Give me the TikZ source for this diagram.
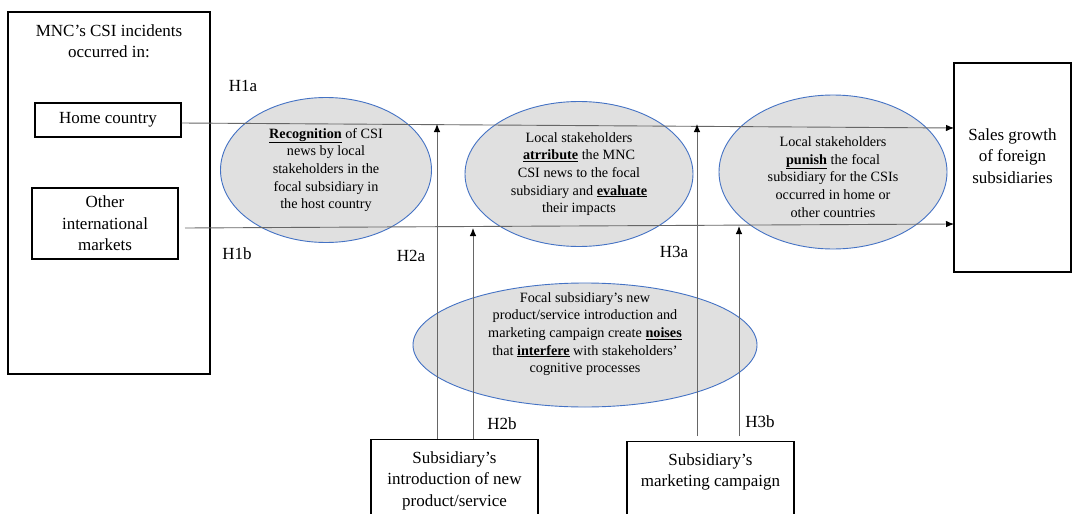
\documentclass[tikz,border=0pt]{standalone}
\usepackage{fontspec}
\setmainfont{Liberation Serif}
\usepackage{tikz}
\usetikzlibrary{shapes,arrows.meta,positioning}
\definecolor{ellgray}{RGB}{224,224,224}
\definecolor{ellblue}{RGB}{68,114,196}
\tikzset{
  boxnode/.style = {draw=black, line width=1.2pt, align=center, inner sep=0pt,
    font=\fontsize{17pt}{21.5pt}\selectfont},% rectangles of the model
  hyp_ell/.style = {ellipse, draw=ellblue, line width=0.9pt, fill=ellgray,
    align=center, inner sep=0pt, font=\fontsize{14.2pt}{17.7pt}\selectfont},% mechanism
  hyp_lab/.style = {inner sep=0pt, font=\fontsize{17pt}{21.5pt}\selectfont},% H labels
  path_ln/.style = {draw=black!60, line width=0.9pt,
    -{Latex[length=8pt,width=6.5pt,black]}}% hypothesised effect
}
\begin{document}
\begin{tikzpicture}[x=1pt,y=-1pt]
  \clip (0,0) rectangle (1072,514);
  \fill[white] (0,0) rectangle (1072,514);

  % CSI incidents
  \node [boxnode, minimum width=202pt, minimum height=362pt] (csi) at (109,193) {};
  \node [boxnode, draw=none, anchor=north] (csi_title) at (109,24)
    {MNC’s CSI incidents\\occurred in:};
  \node [boxnode, minimum width=146pt, minimum height=34pt] (home) at (108,120) {Home country};
  \node [boxnode, minimum width=146pt, minimum height=71pt] (other) at (105,223.5)
    {Other\\international\\markets};

  % outcome
  \node [boxnode, minimum width=117pt, minimum height=209pt, text depth=23.7pt] (sales)
    at (1012.5,167.5) {Sales growth\\of foreign\\subsidiaries};

  % moderators
  \node [boxnode, anchor=north, minimum width=167pt, inner ysep=12pt, text depth=60pt] (intro)
    at (454.5,439) {Subsidiary’s\\introduction of new\\product/service};
  \node [boxnode, anchor=north, minimum width=167pt, inner ysep=12pt, text depth=60pt] (camp)
    at (710.5,441) {Subsidiary’s\\marketing campaign};

  % mechanisms
  \node [hyp_ell, minimum width=211pt, minimum height=145pt] (recog) at (326,170)
    {\underline{\textbf{Recognition}} of CSI\\news by  local\\stakeholders in the\\focal subsidiary in\\the host country};
  \node [hyp_ell, minimum width=228pt, minimum height=145pt] (attrib) at (579,174)
    {Local stakeholders\\\underline{\textbf{atrribute}} the MNC\\CSI news to the focal\\subsidiary and \underline{\textbf{evaluate}}\\their impacts};
  \node [hyp_ell, minimum width=228pt, minimum height=154pt, text height=90.5pt] (punish) at (833,172)
    {Local stakeholders\\\underline{\textbf{punish}} the focal\\subsidiary for the CSIs\\occurred in home or\\other countries};
  \node [hyp_ell, minimum width=344pt, minimum height=124pt, text depth=25pt, inner ysep=-10pt] (noise)
    at (585,345) {Focal subsidiary’s new\\product/service introduction and\\marketing campaign create \underline{\textbf{noises}}\\that \underline{\textbf{interfere}} with stakeholders’\\cognitive processes};

  % line ends
  \coordinate (h1a_end) at (954,128);
  \coordinate (h1b_beg) at (185,228);
  \coordinate (h1b_end) at (954,224);
  \coordinate (h2a_end) at (437,124);
  \coordinate (h2b_end) at (473,228);
  \coordinate (h3a_end) at (697,124);
  \coordinate (h3b_end) at (739,226);

  \draw [path_ln] ([yshift=-3pt]home.east) -- (h1a_end);
  \draw [path_ln] (h1b_beg) -- (h1b_end);
  \draw [path_ln] (intro.north -| h2a_end) -- (h2a_end);
  \draw [path_ln] (intro.north -| h2b_end) -- (h2b_end);
  \draw [path_ln] ([yshift=5pt]camp.north -| h3a_end) -- (h3a_end);
  \draw [path_ln] ([yshift=5pt]camp.north -| h3b_end) -- (h3b_end);

  % hypotheses
  \node [hyp_lab] (h1a) at (243,86) {H1a};
  \node [hyp_lab] (h1b) at (237,254) {H1b};
  \node [hyp_lab] (h2a) at (411,256) {H2a};
  \node [hyp_lab] (h2b) at (502,424) {H2b};
  \node [hyp_lab] (h3a) at (674,252) {H3a};
  \node [hyp_lab] (h3b) at (760,422) {H3b};
\end{tikzpicture}
\end{document}
